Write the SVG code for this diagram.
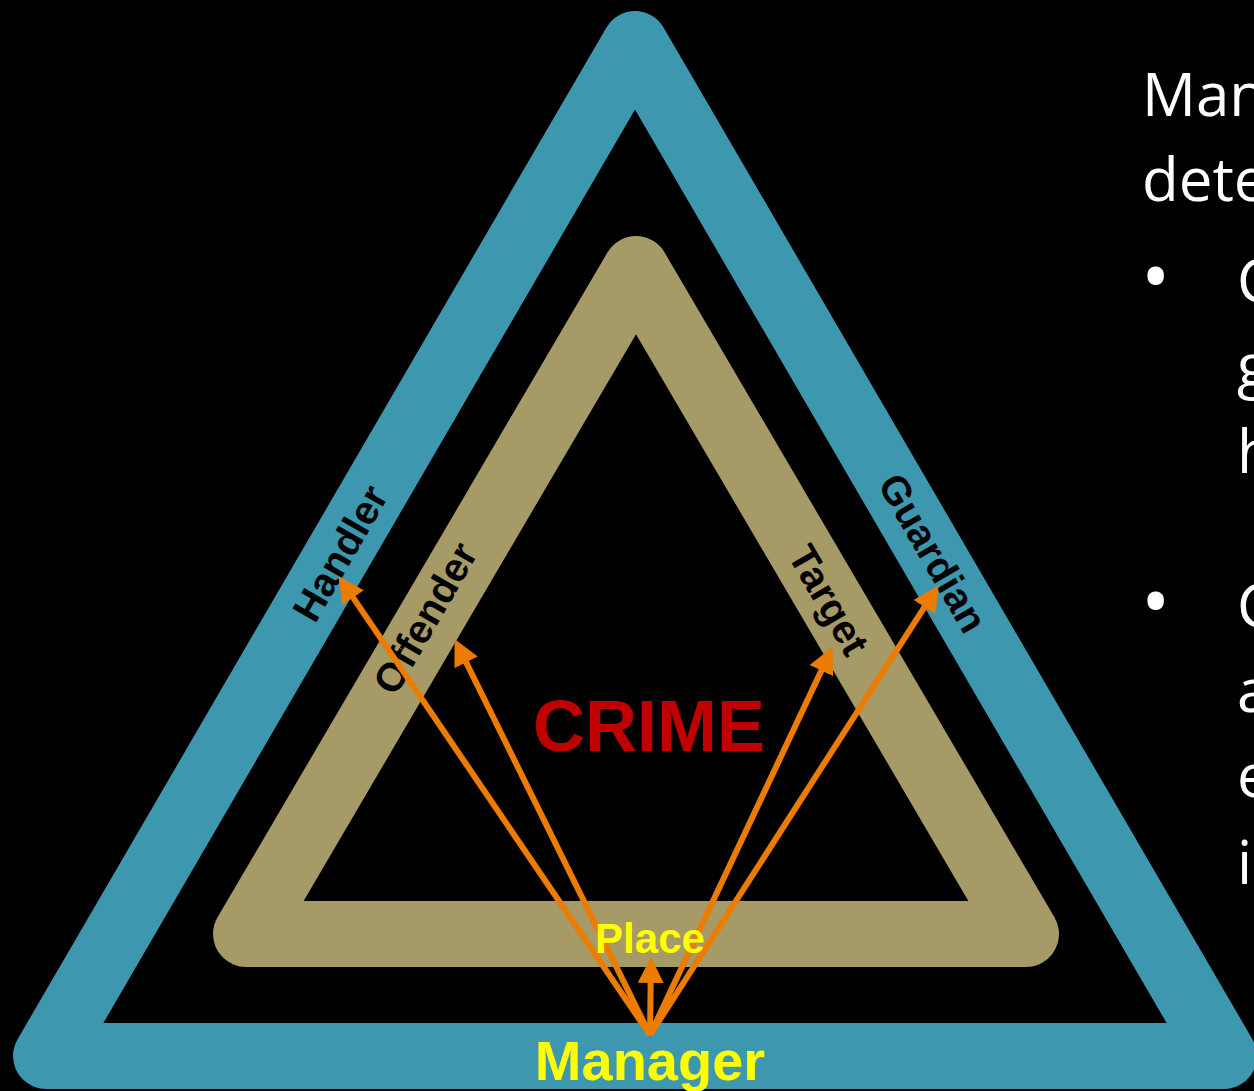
<svg xmlns="http://www.w3.org/2000/svg" width="1254" height="1091" viewBox="0 0 1254 1091">
  <style>
    .band{fill:none;stroke-width:66;stroke-linejoin:round}
    .lbl{font-family:"Liberation Sans",Arial,sans-serif;font-weight:bold;font-size:40px;fill:#000;text-anchor:middle}
    .arr{stroke:#EC7C00;stroke-width:6;fill:none;marker-end:url(#ah)}
    .side{font-family:"Open Sans","DejaVu Sans",sans-serif;font-size:60px;fill:#fff}
    .bul{font-family:"Open Sans","DejaVu Sans",sans-serif;font-size:78px;fill:#fff}
    .ctr{font-family:"Liberation Sans",Arial,sans-serif;font-weight:bold;text-anchor:middle}
  </style>
  <defs>
    <marker id="ah" viewBox="0 0 26 26" refX="10" refY="13" markerWidth="26" markerHeight="26" markerUnits="userSpaceOnUse" orient="auto">
      <path d="M0,0 L26,13 L0,26 Z" fill="#EC7C00"/>
    </marker>
  </defs>
  <rect x="0" y="0" width="1254" height="1091" fill="#000"/>
  <g id="outer-triangle">
    <path class="band" stroke="#3D97AE" d="M635,44 L1224,1056 L46,1056 Z"/>
  </g>
  <g id="inner-triangle">
    <path class="band" stroke="#A69A66" d="M636,269 L1026,934 L246,934 Z"/>
  </g>
  <g id="handler"><text class="lbl" transform="translate(340,553) rotate(-60)" x="0" y="14">Handler</text></g>
  <g id="offender"><text class="lbl" transform="translate(425,618) rotate(-60)" x="0" y="14">Offender</text></g>
  <g id="target"><text class="lbl" transform="translate(829,600) rotate(60)" x="0" y="14">Target</text></g>
  <g id="guardian"><text class="lbl" transform="translate(933,553) rotate(60)" x="0" y="14">Guardian</text></g>
  <g id="connectors">
    <line class="arr" x1="650" y1="1035" x2="347.5" y2="589.4"/>
    <line class="arr" x1="650" y1="1035" x2="461.7" y2="653.4"/>
    <line class="arr" x1="650" y1="1035" x2="825.6" y2="661.6"/>
    <line class="arr" x1="650" y1="1035" x2="929.9" y2="598.6"/>
    <line class="arr" x1="650" y1="1035" x2="650.8" y2="973"/>
  </g>
  <g id="crime"><text class="ctr" x="649" y="751" font-size="72" fill="#C00000">CRIME</text></g>
  <g id="place"><text class="ctr" x="650" y="953" font-size="42" fill="#FFFF00">Place</text></g>
  <g id="manager"><text class="ctr" x="650" y="1080" font-size="56" fill="#FFFF00">Manager</text></g>
  <g id="side-text">
    <text class="side" x="1142" y="116">Man</text>
    <text class="side" x="1142" y="201">dete</text>
    <text class="bul" x="1141" y="305">•</text>
    <text class="side" x="1237" y="302">C</text>
    <text class="side" x="1237" y="387">g</text>
    <text class="side" x="1237" y="473">h</text>
    <text class="bul" x="1141" y="630">•</text>
    <text class="side" x="1237" y="627">C</text>
    <text class="side" x="1237" y="712">a</text>
    <text class="side" x="1237" y="797">e</text>
    <text class="side" x="1237" y="884">i</text>
  </g>
</svg>
